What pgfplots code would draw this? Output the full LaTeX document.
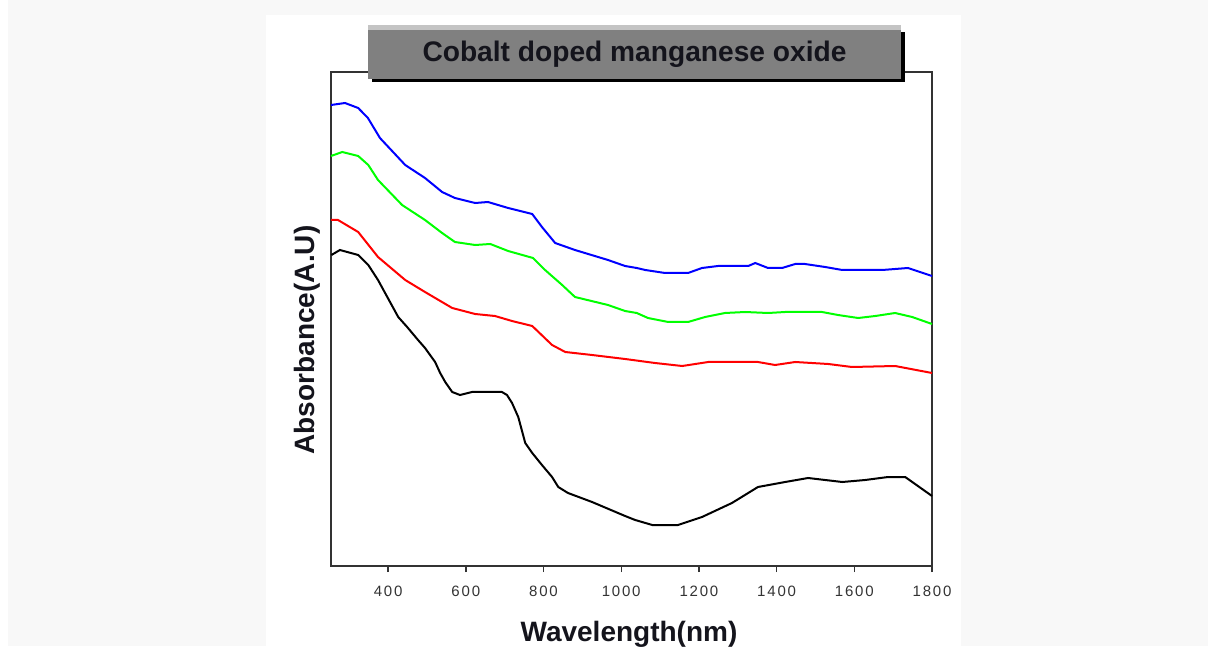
\documentclass[border=0pt]{standalone}
\usepackage{pgfplots}
\pgfplotsset{compat=1.18}
\usepackage{graphicx}
\usepackage{fontspec}
\setmainfont{Liberation Sans}
\definecolor{bggray}{HTML}{F8F8F8}
\definecolor{boxgray}{HTML}{808080}
\definecolor{hilite}{HTML}{C4C4C4}
\definecolor{axisc}{HTML}{333333}
\definecolor{txt}{HTML}{14141C}
\definecolor{cblue}{HTML}{0000FF}
\definecolor{cgreen}{HTML}{00FF00}
\definecolor{cred}{HTML}{FF0000}
\begin{document}
\begin{tikzpicture}[x=1pt,y=1pt]
\useasboundingbox (0,0) rectangle (1208,646);
\fill[white] (0,0) rectangle (1208,646);
\fill[bggray] (8,0) rectangle (1208,646);
\fill[white] (266,0) rectangle (961,631);
\begin{axis}[
  at={(331pt,80pt)}, anchor=south west,
  scale only axis, width=601pt, height=494pt,
  xmin=253, xmax=1800, ymin=0, ymax=494,
  xtick={400,600,...,1800}, ytick=\empty,
  minor xtick={},
  tick align=outside, major tick length=6pt,
  xtick pos=bottom,
  tick style={line width=1.4pt, draw=axisc},
  axis line style={line width=1.4pt, draw=axisc},
  /pgf/number format/assume math mode=true,
  /pgf/number format/1000 sep={},
  xticklabel style={font=\fontsize{15}{17}\selectfont\addfontfeature{LetterSpace=12}, text=axisc, inner sep=0pt, yshift=-14pt},
  clip=false,
]
\addplot[cblue, line width=2pt] table {
253 461
289 463
323 458
348 448
379 428
444 401
495 388
539 374
572 368
624 363
657 364
709 358
771 352
796 339
830 323
881 316
966 306
1010 300
1040 298
1062 296
1113 293
1172 293
1208 298
1249 300
1327 300
1345 303
1378 298
1414 298
1448 302
1473 302
1525 299
1569 296
1672 296
1738 298
1800 290
};
\addplot[cgreen, line width=2pt] table {
253 410
282 414
323 410
349 401
374 386
436 361
495 346
539 333
572 324
624 321
663 322
709 315
773 308
804 296
848 281
881 269
966 261
1010 255
1040 253
1069 248
1121 244
1172 244
1216 249
1267 253
1319 254
1378 253
1422 254
1517 254
1558 251
1610 248
1654 250
1705 253
1749 249
1800 242
};
\addplot[cred, line width=2pt] table {
253 346
271 346
323 334
374 309
444 286
495 274
565 258
624 252
675 250
719 245
771 240
822 221
856 214
925 211
1010 207
1087 203
1157 200
1224 204
1285 204
1352 204
1396 201
1448 204
1533 202
1594 199
1705 200
1800 193
};
\addplot[black, line width=2pt] table {
254 311
276 316
323 311
349 301
374 286
426 249
449 239
477 226
495 218
521 204
534 193
547 184
565 174
585 171
616 174
693 174
706 171
719 163
735 149
753 123
771 113
796 101
822 89
838 79
863 73
925 64
1010 50
1036 46
1080 41
1146 41
1208 49
1285 63
1352 79
1422 84
1481 88
1569 84
1628 86
1687 89
1731 89
1800 70
};
\end{axis}
% title box
\fill[black] (372,564) rectangle (905,614);
\fill[hilite] (368,567) rectangle (901,621);
\fill[boxgray] (368,567) rectangle (901,616);
\node[anchor=base, inner sep=0pt, text=txt] at (634.5,584) {\resizebox{424pt}{20.5pt}{\fontsize{28}{30}\selectfont\bfseries Cobalt doped manganese oxide}};
% axis labels
\node[anchor=base, inner sep=0pt, font=\fontsize{28}{32}\selectfont\bfseries, text=txt] at (629,5) {Wavelength(nm)};
\node[rotate=90, anchor=base, inner sep=0pt, font=\fontsize{28}{32}\selectfont\bfseries, text=txt] at (314,306) {Absorbance(A.U)};
\end{tikzpicture}
\end{document}
